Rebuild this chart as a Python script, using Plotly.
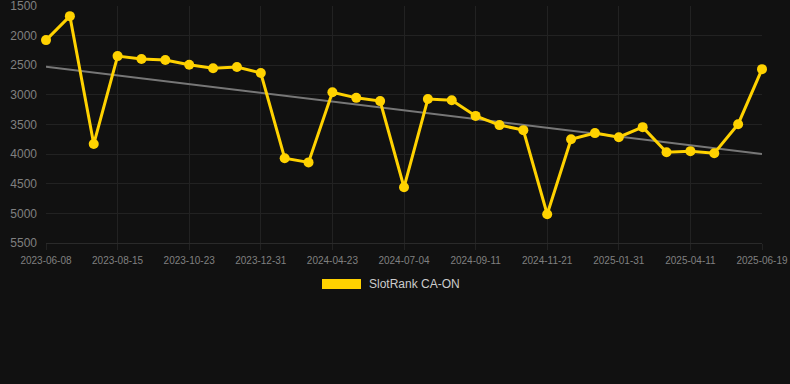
import numpy as np
import plotly.graph_objects as go

dates = ["2023-06-08", "2023-07-01", "2023-07-24", "2023-08-15", "2023-09-07", "2023-09-30",
         "2023-10-23", "2023-11-15", "2023-12-08", "2023-12-31", "2024-02-07", "2024-03-16",
         "2024-04-23", "2024-05-17", "2024-06-10", "2024-07-04", "2024-07-27", "2024-08-19",
         "2024-09-11", "2024-10-04", "2024-10-27", "2024-11-21", "2024-12-14", "2025-01-07",
         "2025-01-31", "2025-02-23", "2025-03-18", "2025-04-11", "2025-05-04", "2025-05-27",
         "2025-06-19"]
ranks = [2075, 1670, 3830, 2345, 2395, 2410, 2490, 2550, 2530, 2630, 4070, 4140,
         2955, 3050, 3105, 4560, 3070, 3090, 3355, 3510, 3595, 5015, 3750, 3645,
         3715, 3545, 3970, 3950, 3985, 3495, 2565]
tick_labels = dates[::3]
y_ticks = [1500, 2000, 2500, 3000, 3500, 4000, 4500, 5000, 5500]
series_name = "SlotRank CA-ON"

idx = np.arange(len(ranks))
slope, intercept = np.polyfit(idx, ranks, 1)
trend = slope * idx + intercept

BG = "#111111"
GRID = "#222222"
GOLD = "#FFD200"
TXT = "#808080"

L, R, T, B = 46, 28, 6, 141
PW = 790 - L - R
PH = 384 - T - B

fig = go.Figure()
fig.add_trace(go.Scatter(x=dates, y=trend, mode="lines",
                         line=dict(color="#777777", width=2), showlegend=False,
                         hoverinfo="skip"))
fig.add_trace(go.Scatter(x=dates, y=ranks, mode="lines+markers", name=series_name,
                         line=dict(color=GOLD, width=3),
                         marker=dict(color=GOLD, size=10), cliponaxis=False,
                         showlegend=False))

# legend swatch + label
fig.add_shape(type="rect", xref="paper", yref="paper",
              x0=(322 - L) / PW, x1=(361 - L) / PW,
              y0=(384 - B - 289) / PH, y1=(384 - B - 279) / PH,
              fillcolor=GOLD, line=dict(width=0))
fig.add_annotation(xref="paper", yref="paper", x=(367 - L) / PW, y=(384 - B - 284) / PH,
                   text=series_name, showarrow=False, xanchor="left", yanchor="middle",
                   font=dict(family="Liberation Sans, Arial", size=12, color="#cccccc"))

fig.update_layout(
    width=790, height=384,
    margin=dict(l=L, r=R, t=T, b=B),
    paper_bgcolor=BG, plot_bgcolor=BG,
    font=dict(family="Liberation Sans, Arial", color=TXT),
)
fig.update_xaxes(type="category", range=[0, len(dates) - 1],
                 tickvals=tick_labels, ticktext=tick_labels,
                 tickfont=dict(size=10, color=TXT),
                 showgrid=True, gridcolor=GRID, gridwidth=1,
                 ticks="outside", ticklen=6, tickcolor=GRID,
                 showline=True, linecolor="#2a2a2a", zeroline=False, tickangle=0,
                 ticklabeloverflow="allow", automargin=False, ticklabelstandoff=2)
fig.update_yaxes(range=[5501, 1499], tickvals=y_ticks,
                 tickfont=dict(size=12, color=TXT),
                 showgrid=True, gridcolor=GRID, gridwidth=1,
                 ticks="", zeroline=False, showline=False,
                 ticklabeloverflow="allow", automargin=False, ticklabelstandoff=8)

fig.write_html("out.html", config={"displayModeBar": False},
               post_script="document.body.style.margin='0';document.body.style.padding='0';"
                           "document.body.style.background='#111111';"
                           "document.body.style.overflow='hidden';")
